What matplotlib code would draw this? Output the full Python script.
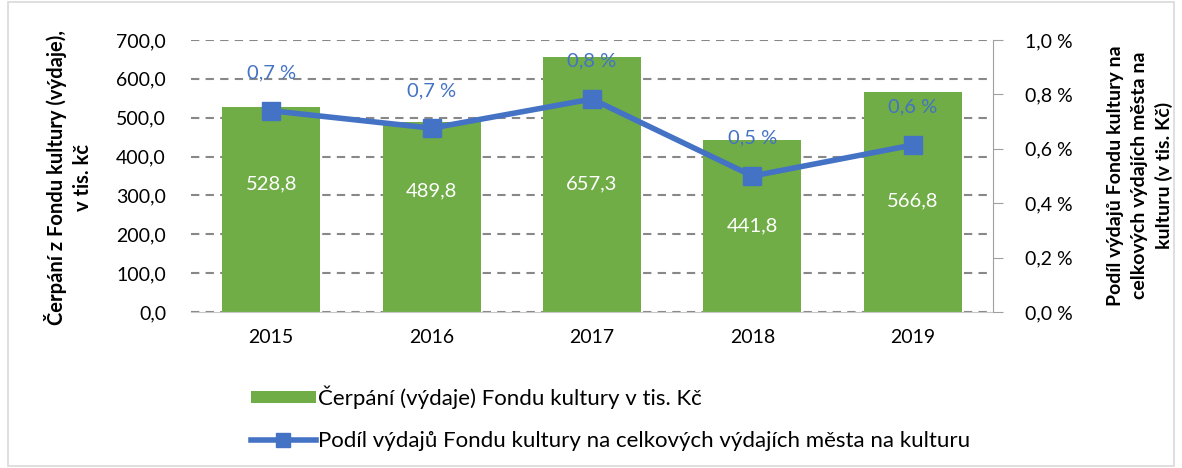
import matplotlib
matplotlib.use("Agg")
import matplotlib.pyplot as plt
from matplotlib.patches import Rectangle
from matplotlib.lines import Line2D

plt.rcParams['font.family'] = ['Lato', 'DejaVu Sans']

# data
roky = ["2015", "2016", "2017", "2018", "2019"]
cerpani = [528.8, 489.8, 657.3, 441.8, 566.8]
podil = [0.74, 0.676, 0.783, 0.50, 0.614]
podil_popisky = ["0,7 %", "0,7 %", "0,8 %", "0,5 %", "0,6 %"]
# where the white value labels sit inside bars (data units)
pozice_popisku = [330, 312, 330, 222, 287]

zelena = "#70AD47"
modra = "#4472C4"

fig = plt.figure(figsize=(11.82, 4.68), dpi=100)
ax = fig.add_axes([0.1616, 0.3333, 0.6785, 0.5812])
ax2 = ax.twinx()

x = list(range(len(roky)))
sloupce = ax.bar(x, cerpani, width=0.61, color=zelena, zorder=2,
                 label="Čerpání (výdaje) Fondu kultury v tis. Kč")
for xi, val, py in zip(x, cerpani, pozice_popisku):
    ax.text(xi, py, f"{val:.1f}".replace(".", ","), ha="center", va="center",
            color="white", fontsize=14.5)

ax.set_ylim(0, 700)
ax.set_xlim(-0.5, 4.5)
ax.set_yticks(range(0, 701, 100))
ax.set_yticklabels([f"{v},0" for v in range(0, 701, 100)], fontsize=14)
ax.set_xticks(x)
ax.set_xticklabels(roky, fontsize=14)
ax.tick_params(axis="y", length=0, pad=18)
ax.tick_params(axis="x", length=0, pad=12)
ax.yaxis.grid(True, linestyle=(0, (4, 3)), color="#888888", linewidth=1.5, zorder=0)
ax.set_axisbelow(True)
for s in ["top", "left", "right"]:
    ax.spines[s].set_visible(False)
ax.spines["bottom"].set_color("#c8c8c8")

fig.text(0.058, 0.62, "Čerpání z Fondu kultury (výdaje),\nv tis. kč", rotation=90,
         ha="center", va="center", fontsize=14.5, fontweight="bold",
         linespacing=1.4, multialignment="center")

linka, = ax2.plot(x, podil, color=modra, linewidth=4, marker="s", markersize=13,
                  zorder=3, label="Podíl výdajů Fondu kultury na celkových výdajích města na kulturu")
for xi, val, txt in zip(x, podil, podil_popisky):
    ax2.annotate(txt, (xi, val), xytext=(0, 21), textcoords="offset points",
                 ha="center", va="bottom", color=modra, fontsize=14.5)
ax2.set_ylim(0, 1.0)
ax2.set_yticks([0, 0.2, 0.4, 0.6, 0.8, 1.0])
ax2.set_yticklabels(["0,0 %", "0,2 %", "0,4 %", "0,6 %", "0,8 %", "1,0 %"], fontsize=14)
ax2.tick_params(axis="y", length=7, color="#a0a0a0", pad=16)
for s in ["top", "left", "bottom"]:
    ax2.spines[s].set_visible(False)
ax2.spines["right"].set_color("#a0a0a0")

fig.text(0.9645, 0.625, "Podíl výdajů Fondu kultury na\ncelkových výdajích města na\nkulturu (v tis. Kč)",
         rotation=90, ha="center", va="center", fontsize=14, fontweight="bold",
         linespacing=1.45, multialignment="center")

ax.set_zorder(ax2.get_zorder() - 1)
ax2.patch.set_visible(False)
ax.patch.set_visible(False)

h_linka = Line2D([], [], color=modra, linewidth=4, marker="s", markersize=10)
fig.legend([sloupce, h_linka], [sloupce.get_label(), linka.get_label()],
           loc="upper left", bbox_to_anchor=(0.205, 0.195), frameon=False,
           fontsize=16, handlelength=2.9, handleheight=0.45, handletextpad=0.1,
           labelspacing=1.0, borderaxespad=0)

fig.patches.append(Rectangle((0.007, 0.005), 0.986, 0.99, transform=fig.transFigure,
                             fill=False, edgecolor="#d9d9d9", linewidth=1.2))

fig.savefig("out.png", dpi=100)
